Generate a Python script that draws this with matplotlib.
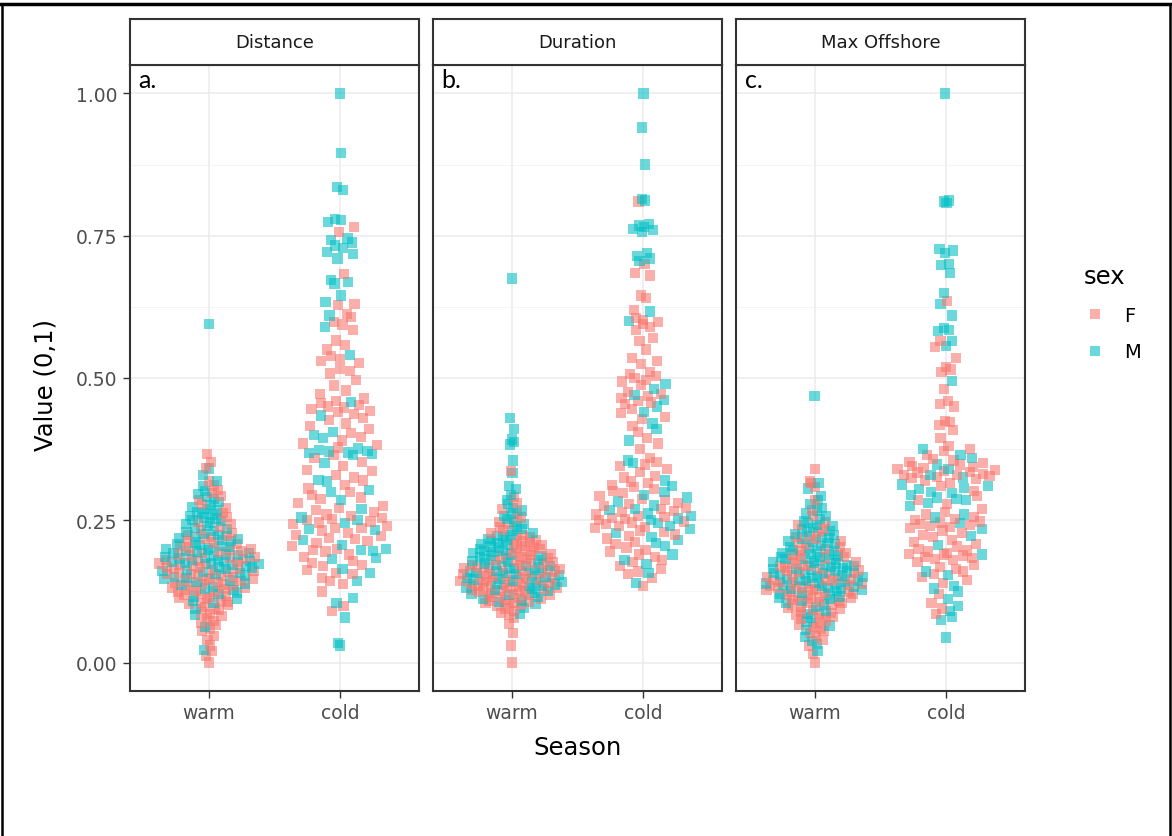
import numpy as np
import matplotlib.pyplot as plt
from matplotlib.lines import Line2D

# ---- data (scaled 0..1) ----
seasons = ["warm", "cold"]
panels = ["Distance", "Duration", "Max Offshore"]
tags = ["a.", "b.", "c."]

dist_warm_F = [0.0, 0.012, 0.02, 0.03, 0.04, 0.047, 0.055, 0.06, 0.066, 0.07, 0.073, 0.078, 0.082, 0.085,
               0.088, 0.092, 0.095, 0.098, 0.101, 0.103, 0.105, 0.107, 0.109, 0.111, 0.113, 0.115, 0.117,
               0.119, 0.121, 0.124, 0.125, 0.126, 0.128, 0.129, 0.131, 0.132, 0.134, 0.135, 0.137, 0.138,
               0.14, 0.141, 0.143, 0.144, 0.146, 0.147, 0.149, 0.15, 0.152, 0.153, 0.155, 0.156, 0.158,
               0.159, 0.161, 0.162, 0.164, 0.165, 0.167, 0.168, 0.17, 0.171, 0.173, 0.174, 0.176, 0.178,
               0.18, 0.182, 0.184, 0.186, 0.188, 0.19, 0.192, 0.194, 0.196, 0.198, 0.199, 0.202, 0.205,
               0.208, 0.211, 0.214, 0.217, 0.22, 0.222, 0.224, 0.228, 0.233, 0.238, 0.243, 0.248, 0.256,
               0.263, 0.271, 0.279, 0.286, 0.292, 0.298, 0.303, 0.311, 0.318, 0.342, 0.353, 0.367]
dist_warm_M = [0.022, 0.062, 0.083, 0.094, 0.104, 0.108, 0.112, 0.116, 0.12, 0.123, 0.127, 0.13, 0.133,
               0.136, 0.139, 0.142, 0.144, 0.147, 0.149, 0.151, 0.153, 0.155, 0.157, 0.159, 0.161, 0.163,
               0.165, 0.167, 0.168, 0.17, 0.171, 0.173, 0.174, 0.175, 0.176, 0.177, 0.179, 0.18, 0.181,
               0.183, 0.184, 0.186, 0.187, 0.189, 0.19, 0.192, 0.193, 0.195, 0.196, 0.198, 0.199, 0.201,
               0.203, 0.205, 0.207, 0.209, 0.211, 0.213, 0.215, 0.217, 0.219, 0.221, 0.224, 0.226, 0.229,
               0.231, 0.234, 0.237, 0.24, 0.243, 0.246, 0.249, 0.251, 0.253, 0.255, 0.258, 0.26, 0.262,
               0.265, 0.267, 0.27, 0.273, 0.277, 0.282, 0.287, 0.291, 0.296, 0.302, 0.31, 0.319, 0.33,
               0.341, 0.595]
dist_cold_F = [0.765, 0.757, 0.683, 0.63, 0.628, 0.612, 0.607, 0.598, 0.594, 0.585, 0.566, 0.558, 0.55,
               0.538, 0.534, 0.53, 0.527, 0.516, 0.512, 0.508, 0.496, 0.487, 0.478, 0.472, 0.464, 0.46,
               0.456, 0.453, 0.45, 0.448, 0.445, 0.442, 0.44, 0.437, 0.43, 0.426, 0.42, 0.415, 0.41, 0.403,
               0.397, 0.39, 0.385, 0.382, 0.378, 0.365, 0.36, 0.353, 0.345, 0.338, 0.336, 0.33, 0.325,
               0.32, 0.312, 0.306, 0.3, 0.295, 0.29, 0.288, 0.28, 0.275, 0.272, 0.268, 0.264, 0.26, 0.257,
               0.254, 0.252, 0.25, 0.248, 0.246, 0.243, 0.24, 0.237, 0.236, 0.232, 0.228, 0.224, 0.222,
               0.219, 0.217, 0.214, 0.21, 0.205, 0.2, 0.198, 0.195, 0.19, 0.185, 0.178, 0.175, 0.172,
               0.17, 0.163, 0.158, 0.156, 0.148, 0.143, 0.138, 0.125, 0.1, 0.091]
dist_cold_M = [1.0, 0.895, 0.835, 0.83, 0.78, 0.777, 0.774, 0.745, 0.742, 0.738, 0.733, 0.728, 0.722,
               0.718, 0.71, 0.672, 0.669, 0.666, 0.645, 0.633, 0.61, 0.59, 0.54, 0.458, 0.434, 0.405, 0.4,
               0.395, 0.376, 0.374, 0.372, 0.371, 0.369, 0.368, 0.366, 0.364, 0.35, 0.321, 0.318, 0.303,
               0.3, 0.286, 0.27, 0.255, 0.25, 0.245, 0.235, 0.233, 0.215, 0.207, 0.2, 0.198, 0.196, 0.184,
               0.182, 0.165, 0.158, 0.143, 0.114, 0.105, 0.079, 0.035, 0.03]

dur_warm_F = [0.0, 0.03, 0.052, 0.068, 0.078, 0.083, 0.087, 0.091, 0.095, 0.099, 0.101, 0.102, 0.104,
              0.105, 0.107, 0.109, 0.11, 0.112, 0.113, 0.115, 0.116, 0.118, 0.119, 0.121, 0.122, 0.124,
              0.125, 0.126, 0.127, 0.128, 0.129, 0.13, 0.131, 0.132, 0.133, 0.134, 0.135, 0.136, 0.138,
              0.139, 0.14, 0.141, 0.142, 0.143, 0.145, 0.146, 0.147, 0.149, 0.15, 0.151, 0.152, 0.153,
              0.155, 0.156, 0.157, 0.158, 0.16, 0.161, 0.162, 0.163, 0.165, 0.166, 0.167, 0.168, 0.17,
              0.171, 0.172, 0.174, 0.175, 0.177, 0.179, 0.18, 0.182, 0.184, 0.186, 0.187, 0.189, 0.191,
              0.193, 0.195, 0.197, 0.199, 0.201, 0.203, 0.205, 0.207, 0.209, 0.212, 0.214, 0.216, 0.219,
              0.221, 0.224, 0.228, 0.233, 0.238, 0.243, 0.247, 0.255, 0.262, 0.27, 0.28, 0.291, 0.336]
dur_warm_M = [0.085, 0.096, 0.103, 0.106, 0.109, 0.112, 0.115, 0.118, 0.12, 0.123, 0.126, 0.128, 0.13,
              0.132, 0.134, 0.135, 0.137, 0.139, 0.141, 0.142, 0.144, 0.146, 0.147, 0.149, 0.151, 0.152,
              0.154, 0.155, 0.157, 0.158, 0.16, 0.161, 0.163, 0.164, 0.166, 0.167, 0.169, 0.17, 0.172,
              0.174, 0.176, 0.178, 0.18, 0.181, 0.183, 0.185, 0.187, 0.188, 0.19, 0.192, 0.194, 0.196,
              0.197, 0.199, 0.202, 0.204, 0.206, 0.208, 0.21, 0.213, 0.215, 0.217, 0.22, 0.222, 0.224,
              0.227, 0.231, 0.235, 0.239, 0.243, 0.248, 0.252, 0.257, 0.262, 0.267, 0.272, 0.278, 0.286,
              0.295, 0.305, 0.31, 0.333, 0.355, 0.383, 0.388, 0.392, 0.41, 0.43, 0.675]
dur_cold_F = [0.81, 0.7, 0.685, 0.68, 0.645, 0.64, 0.62, 0.605, 0.602, 0.598, 0.595, 0.59, 0.585, 0.57,
              0.565, 0.55, 0.535, 0.53, 0.525, 0.51, 0.507, 0.504, 0.5, 0.497, 0.494, 0.488, 0.475, 0.472,
              0.468, 0.465, 0.46, 0.457, 0.455, 0.445, 0.438, 0.432, 0.428, 0.415, 0.405, 0.395, 0.385,
              0.375, 0.36, 0.352, 0.348, 0.345, 0.34, 0.335, 0.328, 0.325, 0.318, 0.315, 0.312, 0.308,
              0.305, 0.302, 0.298, 0.292, 0.288, 0.285, 0.28, 0.278, 0.275, 0.272, 0.27, 0.266, 0.264,
              0.26, 0.258, 0.256, 0.254, 0.252, 0.25, 0.248, 0.246, 0.243, 0.24, 0.238, 0.236, 0.232,
              0.23, 0.225, 0.222, 0.218, 0.212, 0.208, 0.202, 0.198, 0.195, 0.19, 0.185, 0.18, 0.176,
              0.17, 0.165, 0.16, 0.155, 0.148, 0.135]
dur_cold_M = [1.0, 0.94, 0.875, 0.815, 0.812, 0.77, 0.768, 0.765, 0.762, 0.76, 0.757, 0.72, 0.715, 0.71,
              0.705, 0.617, 0.6, 0.49, 0.48, 0.47, 0.462, 0.45, 0.44, 0.42, 0.41, 0.39, 0.355, 0.35, 0.32,
              0.31, 0.3, 0.295, 0.29, 0.283, 0.276, 0.27, 0.268, 0.262, 0.258, 0.253, 0.25, 0.245, 0.24,
              0.235, 0.228, 0.22, 0.215, 0.21, 0.205, 0.19, 0.18, 0.173, 0.158, 0.14]

off_warm_F = [0.0, 0.015, 0.03, 0.04, 0.046, 0.052, 0.056, 0.06, 0.063, 0.066, 0.07, 0.073, 0.076, 0.078,
              0.08, 0.083, 0.085, 0.087, 0.089, 0.092, 0.094, 0.096, 0.098, 0.101, 0.102, 0.104, 0.105,
              0.107, 0.109, 0.11, 0.112, 0.113, 0.115, 0.116, 0.118, 0.119, 0.121, 0.122, 0.124, 0.125,
              0.127, 0.128, 0.129, 0.131, 0.132, 0.134, 0.135, 0.136, 0.138, 0.139, 0.141, 0.142, 0.143,
              0.145, 0.146, 0.147, 0.149, 0.151, 0.153, 0.155, 0.157, 0.159, 0.161, 0.163, 0.165, 0.167,
              0.169, 0.17, 0.172, 0.174, 0.177, 0.18, 0.183, 0.185, 0.188, 0.19, 0.193, 0.196, 0.199,
              0.203, 0.206, 0.21, 0.213, 0.217, 0.22, 0.223, 0.229, 0.235, 0.241, 0.247, 0.257, 0.268,
              0.286, 0.308, 0.315, 0.318, 0.34]
off_warm_M = [0.02, 0.033, 0.038, 0.045, 0.057, 0.065, 0.072, 0.079, 0.085, 0.091, 0.097, 0.102, 0.105,
              0.108, 0.111, 0.113, 0.116, 0.118, 0.121, 0.123, 0.126, 0.127, 0.129, 0.13, 0.131, 0.133,
              0.134, 0.136, 0.137, 0.139, 0.14, 0.141, 0.143, 0.144, 0.146, 0.147, 0.149, 0.15, 0.152,
              0.153, 0.154, 0.156, 0.157, 0.158, 0.16, 0.161, 0.162, 0.164, 0.165, 0.166, 0.168, 0.169,
              0.171, 0.172, 0.174, 0.175, 0.177, 0.178, 0.18, 0.182, 0.183, 0.185, 0.186, 0.188, 0.19,
              0.191, 0.193, 0.195, 0.196, 0.198, 0.201, 0.203, 0.205, 0.208, 0.21, 0.212, 0.214, 0.217,
              0.219, 0.221, 0.224, 0.226, 0.229, 0.231, 0.234, 0.237, 0.24, 0.242, 0.245, 0.248, 0.252,
              0.257, 0.262, 0.267, 0.272, 0.278, 0.285, 0.293, 0.306, 0.316, 0.469]
off_cold_F = [0.635, 0.565, 0.555, 0.535, 0.52, 0.515, 0.51, 0.48, 0.46, 0.455, 0.45, 0.425, 0.422, 0.418,
              0.408, 0.395, 0.38, 0.375, 0.372, 0.365, 0.358, 0.355, 0.352, 0.35, 0.348, 0.346, 0.344,
              0.342, 0.34, 0.338, 0.336, 0.335, 0.334, 0.332, 0.33, 0.329, 0.328, 0.326, 0.324, 0.322,
              0.32, 0.316, 0.31, 0.302, 0.293, 0.286, 0.278, 0.27, 0.265, 0.26, 0.256, 0.252, 0.25, 0.248,
              0.246, 0.244, 0.242, 0.24, 0.238, 0.236, 0.232, 0.228, 0.224, 0.22, 0.216, 0.212, 0.208,
              0.204, 0.2, 0.197, 0.195, 0.193, 0.191, 0.19, 0.188, 0.186, 0.184, 0.182, 0.18, 0.176,
              0.172, 0.168, 0.165, 0.16, 0.155, 0.15, 0.145, 0.14, 0.12, 0.105, 0.095, 0.085]
off_cold_M = [1.0, 0.812, 0.81, 0.807, 0.727, 0.724, 0.72, 0.7, 0.698, 0.685, 0.65, 0.63, 0.61, 0.588,
              0.585, 0.582, 0.565, 0.556, 0.495, 0.375, 0.365, 0.36, 0.348, 0.34, 0.33, 0.325, 0.313,
              0.31, 0.307, 0.305, 0.3, 0.298, 0.295, 0.29, 0.288, 0.285, 0.28, 0.275, 0.26, 0.255, 0.245,
              0.235, 0.222, 0.207, 0.19, 0.16, 0.154, 0.135, 0.13, 0.125, 0.112, 0.1, 0.09, 0.08, 0.075,
              0.044]

data = {
    "Distance": {"warm": (dist_warm_F, dist_warm_M), "cold": (dist_cold_F, dist_cold_M)},
    "Duration": {"warm": (dur_warm_F, dur_warm_M), "cold": (dur_cold_F, dur_cold_M)},
    "Max Offshore": {"warm": (off_warm_F, off_warm_M), "cold": (off_cold_F, off_cold_M)},
}

colF = "#F8766D"
colM = "#00BFC4"
ALPHA = 0.58


def van_der_corput(n, base=2):
    out = np.zeros(n)
    for i in range(1, n + 1):
        q, denom, k = 0.0, 1.0, i
        while k > 0:
            denom *= base
            k, r = divmod(k, base)
            q += r / denom
        out[i - 1] = q
    return out


def quasirandom(y, width=0.4, adjust=0.5):
    # same idea as ggbeeswarm::geom_quasirandom
    y = np.asarray(y, float)
    n = len(y)
    sd = y.std(ddof=1)
    q75, q25 = np.percentile(y, [75, 25])
    lo = min(sd, (q75 - q25) / 1.34)
    bw = 0.9 * lo * n ** -0.2 * adjust
    grid = np.linspace(y.min() - 3 * bw, y.max() + 3 * bw, 512)
    dens = np.exp(-0.5 * ((grid[:, None] - y[None, :]) / bw) ** 2).sum(1)
    dens /= dens.max()
    d_at = np.interp(y, grid, dens)
    ranks = np.argsort(np.argsort(y, kind="stable"), kind="stable")
    sub = van_der_corput(n)[ranks]
    return (sub - 0.5) * 2 * d_at * width


W, H = 1172, 837
fig = plt.figure(figsize=(W / 100, H / 100), dpi=100)

lefts = [130, 433, 736]
pw = 289
top, bottom = 66, 692
strip_top = 20
border = "#333333"

for i, name in enumerate(panels):
    ax = fig.add_axes([lefts[i] / W, 1 - bottom / H, pw / W, (bottom - top) / H])
    sax = fig.add_axes([lefts[i] / W, 1 - top / H, pw / W, (top - strip_top) / H])

    for j, s in enumerate(seasons):
        f, m = data[name][s]
        vals = np.array(f + m)
        cols = np.array([colF] * len(f) + [colM] * len(m))
        xs = j + 1 + quasirandom(vals)
        order = np.argsort(vals, kind="stable")
        ax.scatter(xs[order], vals[order], c=cols[order], s=54, marker="s",
                   alpha=ALPHA, linewidths=0, zorder=3)

    ax.set_xlim(0.4, 2.6)
    ax.set_ylim(-0.05, 1.05)
    ax.set_xticks([1, 2])
    ax.set_xticklabels(seasons)
    ax.set_yticks([0, 0.25, 0.5, 0.75, 1.0])
    ax.set_yticks([0.125, 0.375, 0.625, 0.875], minor=True)
    ax.grid(which="major", color="#EBEBEB", lw=1.1, zorder=0)
    ax.grid(which="minor", axis="y", color="#F2F2F2", lw=0.6, zorder=0)
    ax.set_axisbelow(True)
    ax.tick_params(which="minor", length=0)
    ax.tick_params(which="major", length=5, width=1, color=border, labelsize=13.5,
                   labelcolor="#4D4D4D", pad=4)
    if i == 0:
        ax.set_yticklabels(["0.00", "0.25", "0.50", "0.75", "1.00"])
    else:
        ax.tick_params(axis="y", left=False, labelleft=False)
    for sp in ax.spines.values():
        sp.set_color(border)
        sp.set_linewidth(1.5)
    ax.text(0.03, 0.995, tags[i], transform=ax.transAxes, ha="left", va="top",
            fontsize=18, family="Lato", color="black")

    sax.set_xticks([])
    sax.set_yticks([])
    sax.set_facecolor("white")
    for sp in sax.spines.values():
        sp.set_color(border)
        sp.set_linewidth(1.5)
    sax.text(0.5, 0.5, name, transform=sax.transAxes, ha="center", va="center",
             fontsize=13, color="#1A1A1A")

fig.text((lefts[0] + lefts[2] + pw) / 2 / W, 1 - 748 / H, "Season", ha="center", va="center",
         fontsize=17.5, color="black")
fig.text(45 / W, 1 - 385 / H, "Value (0,1)", ha="center", va="center", rotation=90,
         fontsize=17.5, color="black")

handles = [Line2D([], [], ls="", marker="s", ms=6.5, color=c, alpha=ALPHA, mew=0)
           for c in (colF, colM)]
fig.legend(handles, ["F", "M"], title="sex", loc="upper left",
           bbox_to_anchor=(1066 / W, 1 - 248 / H), frameon=False, fontsize=14,
           title_fontsize=17.5, labelspacing=0.9, handletextpad=0.9, handlelength=1.2,
           alignment="left")

# frame of the surrounding document cell
fig.add_artist(Line2D([0, 1], [1 - 5 / H, 1 - 5 / H], transform=fig.transFigure,
                      color="black", lw=2.5))
fig.add_artist(Line2D([2 / W, 2 / W], [0, 1 - 5 / H], transform=fig.transFigure,
                      color="black", lw=1.8))
fig.add_artist(Line2D([1170 / W, 1170 / W], [0, 1 - 5 / H], transform=fig.transFigure,
                      color="black", lw=1.8))

fig.savefig("out.png", dpi=100)
